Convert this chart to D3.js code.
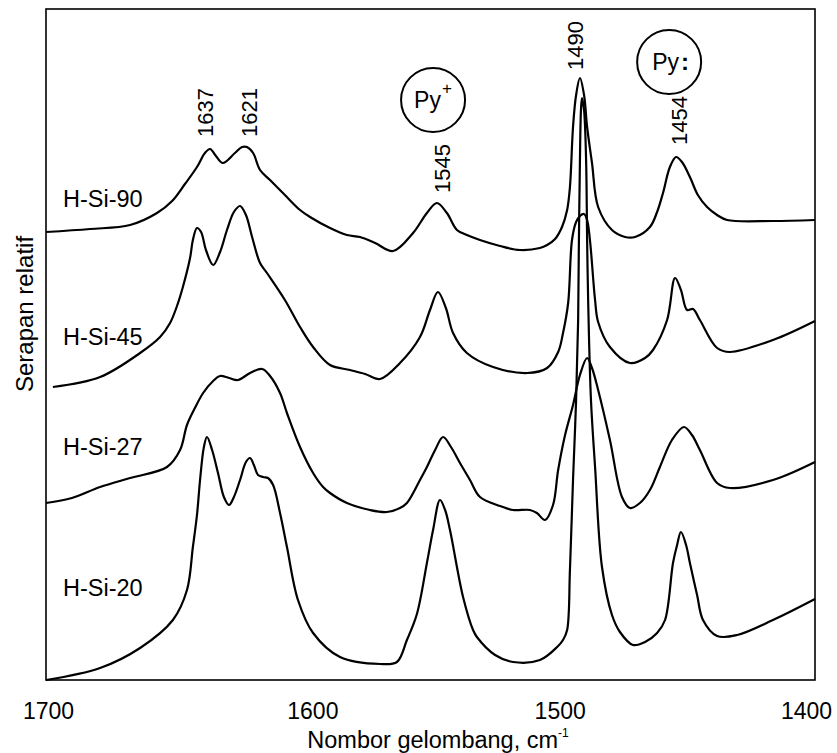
<!DOCTYPE html>
<html>
<head>
<meta charset="utf-8">
<script src="https://cdn.jsdelivr.net/npm/d3@7"></script>
<style>
  html, body { margin: 0; padding: 0; background: #fff; }
  svg { display: block; }
  text { font-family: "Liberation Sans", Arial, Helvetica, sans-serif; fill: #000; }
</style>
</head>
<body>
<svg id="chart" width="837" height="753"></svg>
<script>
// ---------------- DATA ----------------
// wavenumber (cm-1), relative absorbance (arbitrary units)
const seriesNames = ["H-Si-90", "H-Si-45", "H-Si-27", "H-Si-20"];

const hsi90 = [
  [1700,44.8],[1682.8,45.1],[1667.2,45.5],[1656.7,46.7],[1650.8,47.9],[1645.8,49.6],
  [1641.1,51.3],[1638.0,52.7],[1636.0,53.1],[1633.7,52.4],[1631.0,51.7],[1626.3,52.7],
  [1623.5,53.3],[1621.6,53.3],[1619.2,52.7],[1616.5,51.0],[1612.6,50.0],[1606.8,48.5],
  [1600.9,47.0],[1597.0,46.3],[1589.2,45.2],[1582.6,44.5],[1577.5,44.3],[1571.6,43.7],
  [1564.6,42.9],[1556.8,44.7],[1551.4,46.7],[1547.5,47.7],[1543.6,46.7],[1539.7,45.0],
  [1535.8,44.5],[1530.7,44.0],[1522.9,43.4],[1515.1,43.0],[1507.3,43.2],[1504.5,43.5],
  [1501.4,44.1],[1498.7,45.3],[1496.7,47.0],[1495.6,49.3],[1494.4,55.3],[1493.2,58.5],
  [1491.7,60.2],[1490.1,58.5],[1488.9,55.3],[1487.0,51.7],[1484.6,47.3],[1479.2,45.0],
  [1474.1,44.3],[1470.2,44.3],[1464.4,45.3],[1461.6,46.8],[1459.3,48.7],[1456.6,51.3],
  [1454.2,52.3],[1451.9,51.8],[1448.8,50.3],[1445.7,48.5],[1442.1,47.3],[1438.2,46.5],
  [1434.3,46.0],[1416.4,45.9],[1400,46.0]
];

const hsi45 = [
  [1697.3,29.3],[1678.9,30.3],[1663.3,32.7],[1655.5,34.3],[1651.6,35.7],[1648.9,37.4],
  [1646.6,39.3],[1643.8,42.2],[1642.7,44.0],[1641.1,45.2],[1639.5,44.8],[1637.6,43.0],
  [1634.8,41.5],[1632.1,42.8],[1629.4,45.0],[1626.7,46.8],[1624.3,47.4],[1622.0,46.5],
  [1619.6,44.3],[1616.5,41.7],[1613.8,40.7],[1606.8,38.0],[1600.9,35.3],[1595.8,33.3],
  [1589.2,31.5],[1581.4,31.0],[1575.5,30.6],[1569.7,30.1],[1561.9,31.7],[1554.1,34.3],
  [1550.2,37.0],[1547.1,38.8],[1544.0,37.2],[1541.2,34.7],[1535.8,32.7],[1525.6,31.3],
  [1512.3,30.7],[1504.5,31.2],[1500.2,32.8],[1498.3,34.7],[1496.3,37.7],[1494.8,44.0],
  [1493.2,45.8],[1491.7,46.4],[1490.1,46.6],[1488.9,46.0],[1487.8,44.0],[1485.8,38.0],
  [1484.6,35.8],[1480.0,33.3],[1472.2,31.7],[1466.3,32.2],[1463.2,33.0],[1457.7,36.0],
  [1454.6,40.2],[1452.3,39.0],[1449.9,37.0],[1447.6,37.1],[1444.9,36.0],[1438.2,33.2],
  [1433.2,32.8],[1416.4,34.0],[1400,35.9]
];

const hsi27 = [
  [1700,17.7],[1689.9,18.2],[1678.9,19.3],[1667.2,20.2],[1652.8,21.3],[1647.7,23.0],
  [1645.0,25.5],[1641.9,27.2],[1638.7,28.7],[1634.8,29.9],[1632.1,30.4],[1628.6,30.2],
  [1625.1,30.0],[1620.4,30.7],[1615.7,31.1],[1612.6,30.4],[1608.7,28.7],[1606.0,26.7],
  [1600.9,23.3],[1595.8,20.7],[1591.9,19.3],[1589.2,18.7],[1582.6,17.7],[1573.6,17.0],
  [1567.0,16.8],[1561.9,17.2],[1559.2,17.7],[1554.1,20.0],[1551.4,21.3],[1548.2,23.0],
  [1545.1,24.3],[1542.0,23.3],[1538.5,21.7],[1534.6,20.0],[1530.7,18.3],[1522.9,17.4],
  [1517.8,17.0],[1511.2,17.0],[1508.5,16.7],[1505.3,16.0],[1502.2,17.5],[1500.2,21.0],
  [1497.5,24.5],[1494.4,27.5],[1491.7,30.5],[1488.9,32.2],[1487.0,31.2],[1484.6,29.0],
  [1480.0,24.0],[1475.3,18.3],[1472.2,17.2],[1468.3,17.7],[1464.4,19.0],[1460.5,21.3],
  [1455.8,24.0],[1451.1,25.3],[1448.0,24.5],[1444.9,23.0],[1438.2,19.7],[1433.2,19.2],
  [1416.4,20.0],[1400,21.8]
];

const hsi20 = [
  [1700,0.0],[1678.9,1.2],[1663.3,3.2],[1650.5,6.0],[1645.0,9.0],[1642.7,13.3],
  [1641.1,16.5],[1639.9,20.0],[1638.4,23.3],[1637.2,24.3],[1635.2,23.0],[1632.9,20.7],
  [1630.6,18.3],[1628.6,17.5],[1626.7,18.3],[1624.3,20.0],[1622.0,21.8],[1620.4,22.2],
  [1618.9,21.5],[1617.3,20.5],[1615.3,20.3],[1613.4,20.2],[1611.4,19.5],[1608.7,16.7],
  [1606.0,13.3],[1601.7,8.0],[1595.8,4.7],[1585.3,2.3],[1569.7,1.6],[1563.1,1.8],
  [1559.2,4.0],[1555.3,6.6],[1551.4,11.7],[1549.0,15.0],[1546.3,18.0],[1544.3,17.0],
  [1542.4,15.0],[1537.3,8.3],[1533.4,5.0],[1531.9,4.3],[1524.8,2.5],[1517.8,1.8],
  [1507.3,2.0],[1500.6,3.3],[1498.3,4.0],[1496.7,5.0],[1495.6,11.0],[1494.4,20.0],
  [1493.2,28.0],[1492.4,36.0],[1492.1,44.0],[1491.7,52.0],[1491.3,57.0],[1490.9,58.2],
  [1490.1,57.0],[1489.3,52.0],[1488.9,44.0],[1488.5,38.0],[1487.4,28.0],[1485.8,21.3],
  [1483.1,11.3],[1479.2,6.5],[1476.1,4.8],[1471.0,3.5],[1466.3,3.8],[1461.6,4.7],
  [1458.5,6.0],[1455.4,11.7],[1453.8,13.5],[1452.3,14.8],[1450.3,13.5],[1448.8,11.7],
  [1446.0,8.5],[1443.7,6.0],[1438.2,4.4],[1430.4,4.5],[1416.4,6.0],[1400,8.1]
];

const seriesData = [hsi90, hsi45, hsi27, hsi20];

const xTicks = [1700, 1600, 1500, 1400];
const peakLabels = [1637, 1621, 1545, 1490, 1454];

const xDomain = [1700, 1400];
const yDomain = [0, 67.1];

// ---------------- LAYOUT (not data) ----------------
const plot = { left: 46, top: 9, right: 815, bottom: 680 };
const font = '"Liberation Sans", Arial, Helvetica, sans-serif';

// series-name label positions (px) : x, baseline y
const nameLayout = [[63, 207], [63, 345], [63, 455], [63, 596]];
// peak-label layout: dx from scale position (baseline), bottom y (px)
const peakLayout = [[6, 137], [8.5, 137], [7, 193], [-1.5, 70], [10.5, 145]];
// tick-label nudges (px)
const tickNudge = [2, 10, 1, -9];

// ---------------- CHART ----------------
const svg = d3.select("#chart");

const x = d3.scaleLinear().domain(xDomain).range([plot.left, plot.right]);
const y = d3.scaleLinear().domain(yDomain).range([plot.bottom, plot.top]);

// frame
svg.append("rect")
  .attr("x", plot.left).attr("y", plot.top)
  .attr("width", plot.right - plot.left)
  .attr("height", plot.bottom - plot.top)
  .attr("fill", "none").attr("stroke", "#000").attr("stroke-width", 1.6);

// x axis (labels only)
const xAxis = d3.axisBottom(x).tickValues(xTicks).tickSize(0).tickFormat(d3.format("d"));
const gx = svg.append("g").attr("transform", `translate(0,${plot.bottom})`).call(xAxis);
gx.select(".domain").remove();
gx.selectAll("text")
  .attr("y", 39).attr("dy", 0)
  .attr("dx", (d, i) => tickNudge[i])
  .style("font-family", font).style("font-size", "23px").attr("fill", "#000");

// x title
const xt = svg.append("text")
  .attr("x", 438).attr("y", 748)
  .attr("text-anchor", "middle")
  .style("font-size", "23.5px");
xt.append("tspan").text("Nombor gelombang, cm");
xt.append("tspan").text("-1").attr("dy", -11).style("font-size", "12px");

// y title
svg.append("text")
  .attr("transform", "translate(33,314) rotate(-90)")
  .attr("text-anchor", "middle")
  .style("font-size", "24px")
  .text("Serapan relatif");

// curves
const line = d3.line()
  .x(d => x(d[0]))
  .y(d => y(d[1]))
  .curve(d3.curveCatmullRom.alpha(0.5));

svg.append("g").selectAll("path")
  .data(seriesData)
  .join("path")
  .attr("d", d => line(d))
  .attr("fill", "none")
  .attr("stroke", "#000")
  .attr("stroke-width", 2.2)
  .attr("stroke-linejoin", "round");

// series names
svg.append("g").selectAll("text")
  .data(seriesNames)
  .join("text")
  .attr("x", (d, i) => nameLayout[i][0])
  .attr("y", (d, i) => nameLayout[i][1])
  .style("font-size", "23.5px")
  .text(d => d);

// peak labels (rotated)
svg.append("g").selectAll("text")
  .data(peakLabels)
  .join("text")
  .attr("transform", (d, i) => `translate(${x(d) + peakLayout[i][0]},${peakLayout[i][1]}) rotate(-90)`)
  .attr("text-anchor", "start")
  .style("font-size", "22px")
  .text(d => d);

// circled annotations: Py+ (Brønsted) and Py: (Lewis)
const r = 32;
const pyPlus = svg.append("g").attr("transform", `translate(${x(1549.0)},${y(58.0)})`);
pyPlus.append("circle").attr("r", r).attr("fill", "none").attr("stroke", "#000").attr("stroke-width", 2);
const t1 = pyPlus.append("text").attr("x", -19).attr("y", 8).style("font-size", "23px");
t1.append("tspan").text("Py");
t1.append("tspan").text("+").attr("dx", 1).attr("dy", -14).style("font-size", "17px");

const pyLewis = svg.append("g").attr("transform", `translate(${x(1456.9)},${y(61.8)})`);
pyLewis.append("circle").attr("r", r).attr("fill", "none").attr("stroke", "#000").attr("stroke-width", 2);
const t2 = pyLewis.append("text").attr("x", -17).attr("y", 8).style("font-size", "23px");
t2.append("tspan").text("Py");
t2.append("tspan").text(":").attr("dx", 2).style("font-weight", "bold").style("font-size", "24px");
</script>
</body>
</html>
